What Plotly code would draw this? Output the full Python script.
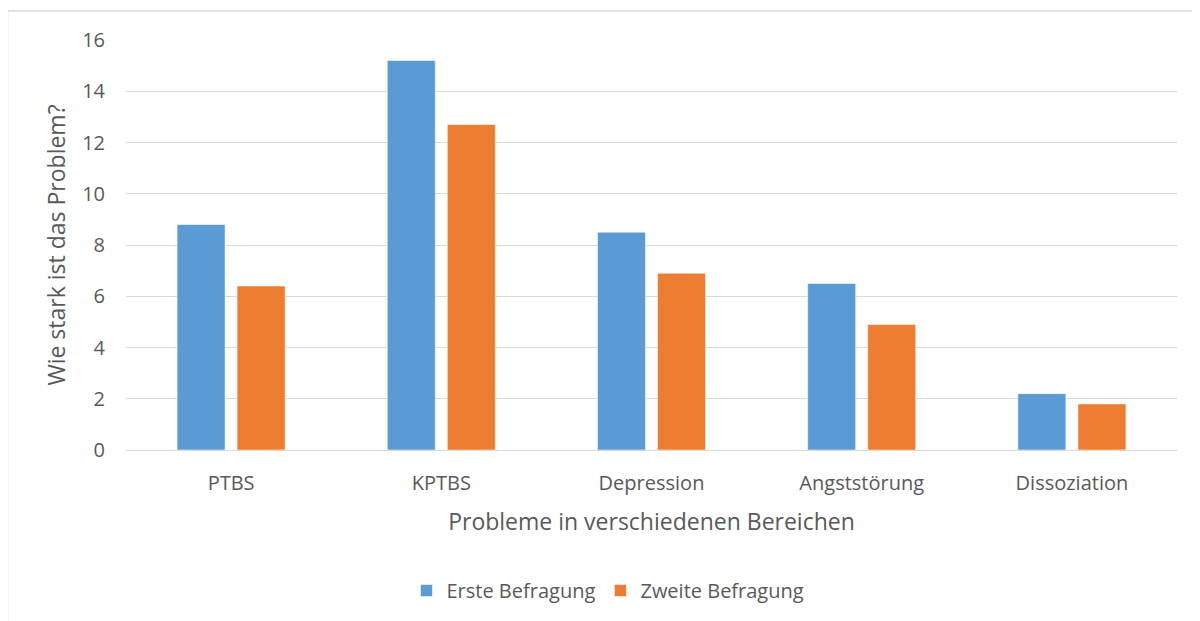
import plotly.graph_objects as go

categories = ["PTBS", "KPTBS", "Depression", "Angststörung", "Dissoziation"]
erste = [8.8, 15.2, 8.5, 6.5, 2.2]
zweite = [6.4, 12.7, 6.9, 4.9, 1.8]
series_names = ["Erste Befragung", "Zweite Befragung"]
y_ticks = [0, 2, 4, 6, 8, 10, 12, 14, 16]

FONT = "Open Sans"
TXT = "#595959"

fig = go.Figure()
fig.add_trace(go.Bar(x=categories, y=erste, name=series_names[0],
                     marker=dict(color="#5B9BD5", line=dict(color="rgba(255,255,255,0.55)", width=1))))
fig.add_trace(go.Bar(x=categories, y=zweite, name=series_names[1],
                     marker=dict(color="#ED7D31", line=dict(color="rgba(255,255,255,0.55)", width=1))))

# the page places the figure 8px from the window's top-left corner
OFF = 8
W, H = 1200 - OFF, 621 - OFF
L, R, T, B = 126 - OFF, 23, 40 - OFF, 170.4
pw, ph = W - L - R, H - T - B

def px(x):  # window pixel -> paper x
    return (x - OFF - L) / pw

def py(y):  # window pixel -> paper y
    return (H - B - (y - OFF)) / ph

fig.update_layout(
    width=W, height=H,
    margin=dict(l=L, r=R, t=T, b=B),
    plot_bgcolor="white", paper_bgcolor="white",
    barmode="group", bargap=0.4286, bargroupgap=0.2,
    font=dict(family=FONT, color=TXT, size=20),
    showlegend=True,
    legend=dict(orientation="h", x=px(608), y=py(590), xanchor="center", yanchor="middle",
                font=dict(size=20, color=TXT), traceorder="normal", itemwidth=30),
    xaxis=dict(showgrid=False, showline=False, zeroline=False, ticks="",
               tickfont=dict(size=20, color=TXT), ticklabelstandoff=19,
               title=dict(text="Probleme in verschiedenen Bereichen", font=dict(size=23, color=TXT), standoff=18)),
    yaxis=dict(range=[0, 16], tickvals=y_ticks, showgrid=True, gridcolor="#D9D9D9", gridwidth=1,
               zeroline=True, zerolinecolor="#D9D9D9", zerolinewidth=1, showline=False, ticks="",
               tickfont=dict(size=20, color=TXT), ticklabelstandoff=20,
               title=dict(text="Wie stark ist das Problem?", font=dict(size=23, color=TXT), standoff=10)),
    shapes=[dict(type="rect", xref="paper", yref="paper",
                 x0=px(7.5), x1=px(1215), y0=py(640), y1=py(11),
                 line=dict(color="#D9D9D9", width=1.5), fillcolor="rgba(0,0,0,0)", layer="below")],
)

fig.write_html("out.html")
